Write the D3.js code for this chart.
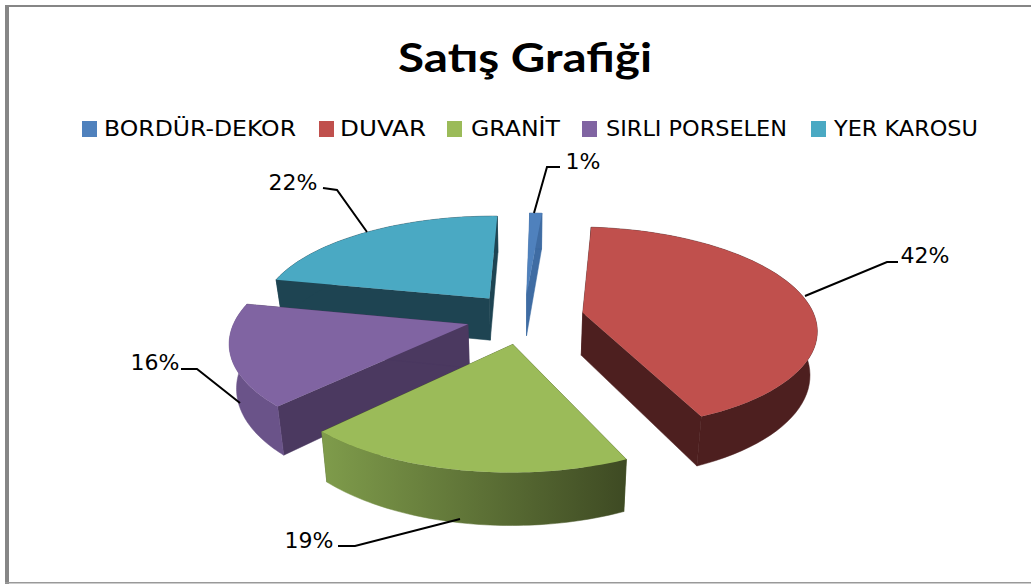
<!DOCTYPE html>
<html>
<head>
<meta charset="utf-8">
<script src="https://cdnjs.cloudflare.com/ajax/libs/d3/7.8.5/d3.min.js"></script>
<style>
  html, body { margin: 0; padding: 0; background: #fff; }
  svg { display: block; }
</style>
</head>
<body>
<div class="chart"></div>
<script>
const title = 'Satış Grafiği'
const categories = ['BORDÜR-DEKOR', 'DUVAR', 'GRANİT', 'SIRLI PORSELEN', 'YER KAROSU']
const values = [1, 42, 19, 16, 22]

const topColors = ['#4f81bd', '#c0504d', '#9bbb59', '#8064a2', '#4aa9c3']
const cutColors = ['#3f6ca3', '#4d1f1f', '#4b5c2a', '#4b3960', '#1e4452']
const wallColors = ['#3f6ca3', '#4d1f1f', 'url(#greenWall)', '#6a5389', '#1e4452']

// layout, not data
const explode = [55, 60, 62, 58, 57]
const legendSwatchX = [82, 319, 447, 582, 811]
const legendTextX = [104, 340, 471, 606, 834]
const legendTextW = [192, 86, 89, 181, 144]
const leaderPts = [
  [[534, 213], [547, 167], [560, 167]],
  [[805, 296], [887, 262], [898, 262]],
  [[460, 519], [355, 546], [338, 546]],
  [[240, 403], [197, 369], [181, 369]],
  [[367, 232], [337, 190], [323, 188]]
]
const labelPos = [[583, 169], [925, 263], [309, 548], [155, 370], [293, 190]]

const w = 1031, h = 584
const cx = 524, cy = 317
const R = 232, squash = 0.43, persp = 0.15, depth = 43
const rotation = 1 * Math.PI / 180

// flat pie plane -> screen, with some perspective like the 3d excel pies
const project = (X, Y, z) => {
  const s = 1 / (1 + persp * Y / R)
  const sx = X * s * (1 - 0.025 * z)
  const sy = -squash * Y * s + depth * s * z
  return [cx + sx, cy + sy]
}

const svg = d3.select('.chart').append('svg').attr('width', w).attr('height', h)

const defs = svg.append('defs')
const grad = defs.append('linearGradient').attr('id', 'greenWall')
grad.append('stop').attr('offset', '0%').attr('stop-color', '#7f9c4b')
grad.append('stop').attr('offset', '100%').attr('stop-color', '#3e4a23')

svg.append('rect').attr('width', w).attr('height', h).attr('fill', '#fff')

// frame
svg.append('rect').attr('x', 5).attr('y', 5).attr('width', 4).attr('height', h - 5).attr('fill', '#868686')
svg.append('rect').attr('x', 5).attr('y', 5).attr('width', w - 5).attr('height', 2).attr('fill', '#868686')
svg.append('rect').attr('x', 5).attr('y', 582).attr('width', w - 5).attr('height', 1.5).attr('fill', '#999')

svg.append('text').text(title)
  .attr('x', 525).attr('y', 72)
  .attr('text-anchor', 'middle')
  .attr('font-family', 'Lato')
  .attr('font-weight', 700)
  .attr('font-size', 41)
  .attr('textLength', 254)
  .attr('lengthAdjust', 'spacingAndGlyphs')
  .attr('fill', '#000')

// legend
const legend = svg.append('g').attr('id', 'legend')
categories.forEach((c, i) => {
  legend.append('rect')
    .attr('x', legendSwatchX[i]).attr('y', 121)
    .attr('width', 15).attr('height', 16)
    .attr('fill', topColors[i])
  legend.append('text').text(c)
    .attr('x', legendTextX[i]).attr('y', 136)
    .attr('font-family', 'DejaVu Sans')
    .attr('font-size', 22)
    .attr('textLength', legendTextW[i])
    .attr('lengthAdjust', 'spacingAndGlyphs')
    .attr('fill', '#000')
})

// slices, first one starts near 12 o'clock, clockwise
const pie = d3.pie().sort(null).startAngle(rotation).endAngle(2 * Math.PI + rotation)
const arcs = pie(values)
const line = d3.line()

// back to front
const drawOrder = [4, 0, 3, 1, 2]
drawOrder.forEach((i) => {
  const a = arcs[i]
  const mid = (a.startAngle + a.endAngle) / 2
  const ox = explode[i] * Math.sin(mid)
  const oy = explode[i] * Math.cos(mid)
  const n = 60
  const angles = d3.range(n + 1).map((k) => a.startAngle + (a.endAngle - a.startAngle) * k / n)
  const rim = (t, z) => project(ox + R * Math.sin(t), oy + R * Math.cos(t), z)
  const apex = (z) => project(ox, oy, z)

  const g = svg.append('g').attr('class', 'slice')

  // two cut faces
  ;[a.startAngle, a.endAngle].forEach((t) => {
    g.append('path')
      .attr('d', line([apex(0), rim(t, 0), rim(t, 1), apex(1)]) + 'Z')
      .attr('fill', cutColors[i])
      .attr('stroke', cutColors[i])
      .attr('stroke-width', 0.5)
  })
  // outer wall
  const wall = angles.map((t) => rim(t, 0)).concat(angles.slice().reverse().map((t) => rim(t, 1)))
  g.append('path').attr('d', line(wall) + 'Z')
    .attr('fill', wallColors[i])
    .attr('stroke', wallColors[i])
    .attr('stroke-width', 0.5)
  // top
  const top = [apex(0)].concat(angles.map((t) => rim(t, 0)))
  g.append('path').attr('d', line(top) + 'Z').attr('fill', topColors[i])
})

// leaders and labels
values.forEach((v, i) => {
  svg.append('path')
    .attr('d', line(leaderPts[i]))
    .attr('fill', 'none')
    .attr('stroke', '#000')
    .attr('stroke-width', 2)
  svg.append('text').text(v + '%')
    .attr('x', labelPos[i][0]).attr('y', labelPos[i][1])
    .attr('text-anchor', 'middle')
    .attr('font-family', 'DejaVu Sans')
    .attr('font-size', 22)
    .attr('fill', '#000')
})
</script>
</body>
</html>
